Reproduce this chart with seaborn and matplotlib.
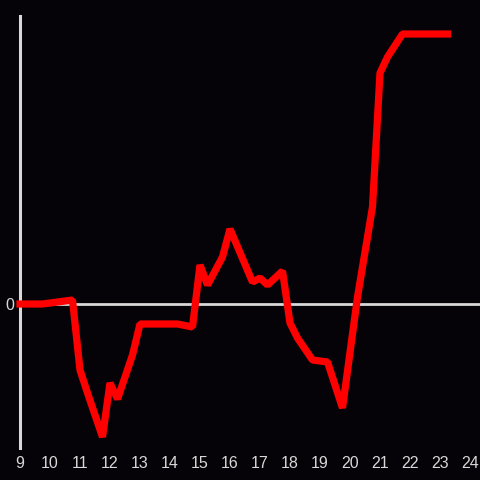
import numpy as np
import pandas as pd
import matplotlib
matplotlib.use('Agg')
import matplotlib.pyplot as plt
import seaborn as sns

# Hour of day and value (arbitrary units, only 0 is labelled)
hours = [9.0, 9.75, 10.75, 11.0, 11.25, 11.75, 12.0, 12.25, 12.75, 13.0,
         14.25, 14.75, 15.0, 15.25, 15.75, 16.0, 16.75, 17.0, 17.25, 17.75,
         18.0, 18.25, 18.75, 19.25, 19.75, 20.25, 20.75, 21.0, 21.25, 21.75,
         23.25]
values = [0, 0, 4, -66, -89, -133, -79, -95, -51, -20,
          -20, -23, 39, 19, 47, 75, 22, 26, 19, 33,
          -19, -34, -56, -58, -104, 7, 97, 231, 247, 270,
          270]
x_ticks = list(range(9, 25))
y_ticks = [0]

bg = '#050307'
fg = '#d8d8d8'

sns.set_style('dark')
plt.rcParams['font.family'] = ['Liberation Sans', 'DejaVu Sans']

df = pd.DataFrame({'hour': hours, 'value': values})

fig = plt.figure(figsize=(4.8, 4.8), dpi=100, facecolor=bg)
ax = fig.add_axes([20 / 480, 32 / 480, 460 / 480, 432 / 480])
ax.set_facecolor(bg)

sns.lineplot(data=df, x='hour', y='value', ax=ax, color='#ff0000',
             linewidth=5.2, zorder=5, clip_on=False)
ax.lines[-1].set_solid_joinstyle('bevel')
ax.lines[-1].set_solid_capstyle('projecting')

ax.axhline(0, color=fg, linewidth=2, zorder=2)

ax.set_xlim(9, 9 + 460 / 30)
ax.set_ylim(-144, 288)
ax.set_xticks(x_ticks)
ax.set_yticks(y_ticks)
ax.tick_params(axis='both', length=0, colors=fg, labelsize=11.5)
ax.tick_params(axis='x', pad=5.5)
ax.tick_params(axis='y', pad=4)
ax.grid(False)
ax.set_xlabel('')
ax.set_ylabel('')

for side in ['top', 'right', 'bottom']:
    ax.spines[side].set_visible(False)
ax.spines['left'].set_color(fg)
ax.spines['left'].set_linewidth(2.2)
ax.spines['left'].set_visible(True)

fig.savefig('out.png', dpi=100, facecolor=bg)
